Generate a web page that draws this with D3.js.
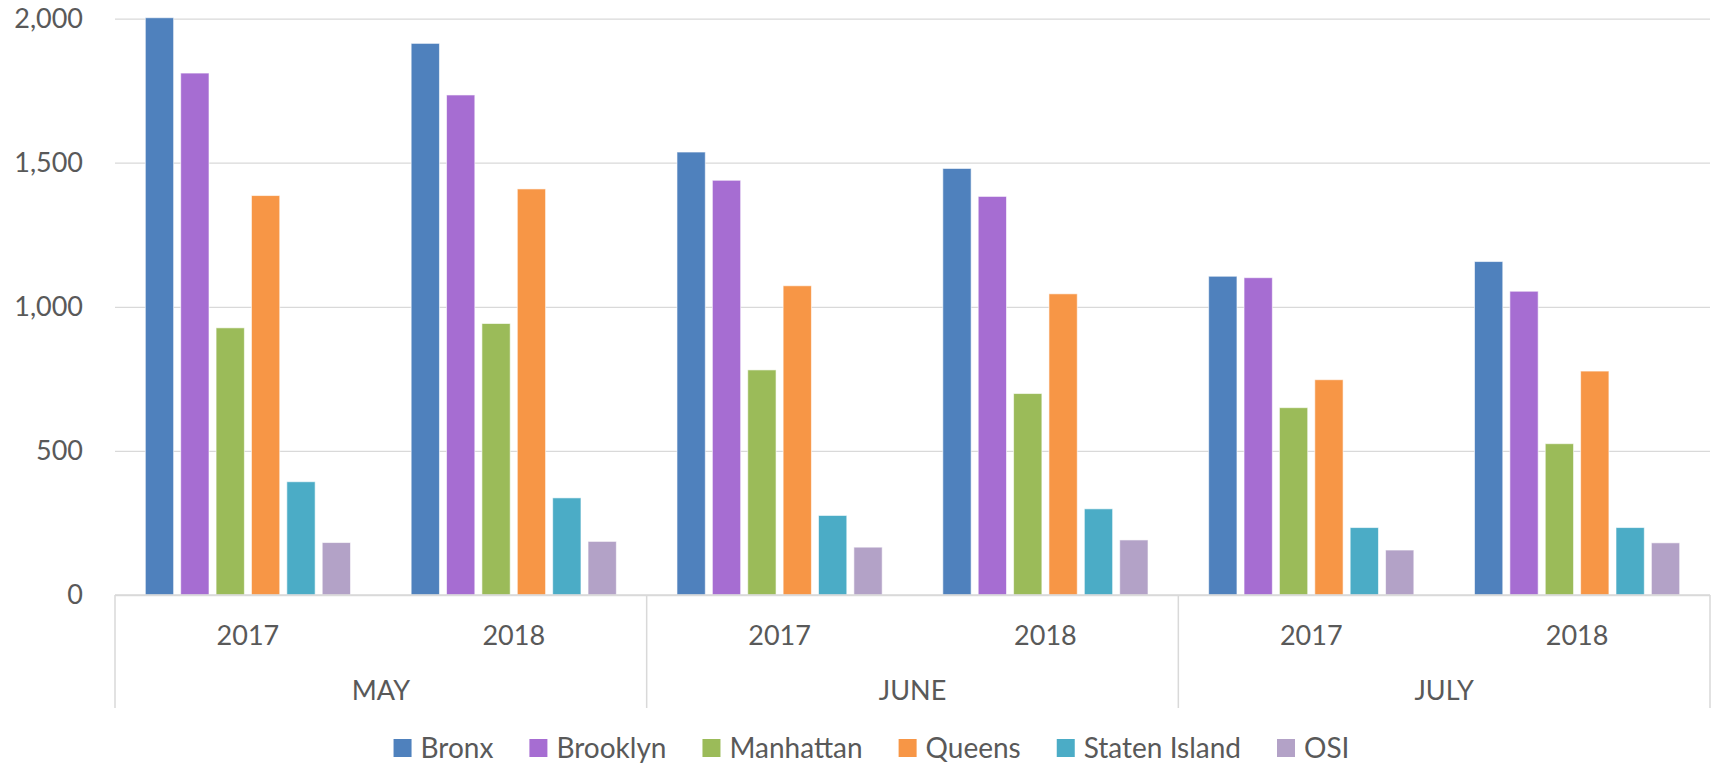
<!DOCTYPE html>
<html>
<head>
<meta charset="utf-8">
<script src="https://cdn.jsdelivr.net/npm/d3@7"></script>
<style>
  body { margin: 0; background: #fff; }
  svg text { font-family: Lato, "Open Sans", sans-serif; fill: #595959; }
</style>
</head>
<body>
<div id="chart"></div>
<script>
const months = ["MAY", "JUNE", "JULY"];
const years = ["2017", "2018"];
const boroughs = ["Bronx", "Brooklyn", "Manhattan", "Queens", "Staten Island", "OSI"];
const colors = ["#4f81bd", "#a66dd2", "#9bbb59", "#f79646", "#4bacc6", "#b3a2c7"];
const yTicks = [0, 500, 1000, 1500, 2000];

// one value per month/year group: May17, May18, Jun17, Jun18, Jul17, Jul18
const bronx = [2003, 1914, 1537, 1480, 1106, 1157];
const brooklyn = [1811, 1735, 1439, 1383, 1101, 1054];
const manhattan = [927, 942, 781, 699, 650, 525];
const queens = [1386, 1409, 1073, 1045, 747, 777];
const statenIsland = [393, 337, 276, 299, 234, 234];
const osi = [182, 186, 166, 191, 156, 181];

const series = [bronx, brooklyn, manhattan, queens, statenIsland, osi];

const W = 1718, H = 765;
const plot = {left: 115, right: 1710, top: 18.6, bottom: 595};
const axisBottomEnd = 708;
const fontSize = "27px";

const groups = [];
months.forEach(m => years.forEach(yr => groups.push({month: m, year: yr, key: m + "-" + yr})));

const svg = d3.select("#chart").append("svg")
    .attr("width", W)
    .attr("height", H);

const x0 = d3.scaleBand()
    .domain(groups.map(g => g.key))
    .range([plot.left, plot.right])
    .padding(0);

const x1 = d3.scaleBand()
    .domain(boroughs)
    .range([0, x0.bandwidth()])
    .paddingInner(0.2)
    .paddingOuter(0.857);

const xm = d3.scaleBand()
    .domain(months)
    .range([plot.left, plot.right]);

const y = d3.scaleLinear()
    .domain([0, 2000])
    .range([plot.bottom, plot.top]);

// gridlines
svg.append("g")
    .attr("transform", `translate(${plot.left},0)`)
    .call(d3.axisLeft(y).tickValues(yTicks).tickSize(-(plot.right - plot.left)).tickFormat(""))
    .call(g => g.select(".domain").remove())
    .selectAll("line")
    .attr("stroke", "#d9d9d9")
    .attr("stroke-width", 1.3);

// y labels
svg.append("g")
    .attr("transform", `translate(${plot.left},0)`)
    .call(d3.axisLeft(y).tickValues(yTicks).tickSize(0).tickPadding(32).tickFormat(d3.format(",")))
    .call(g => g.select(".domain").remove())
    .selectAll("text")
    .style("font-size", fontSize)
    .attr("fill", "#595959");

// bars
const groupG = svg.append("g").selectAll("g")
    .data(groups)
    .join("g")
    .attr("transform", d => `translate(${x0(d.key)},0)`);

groupG.selectAll("rect")
    .data((d, gi) => boroughs.map((b, si) => ({b, v: series[si][gi], c: colors[si]})))
    .join("rect")
    .attr("x", d => x1(d.b))
    .attr("width", x1.bandwidth())
    .attr("y", d => y(d.v))
    .attr("height", d => y(0) - y(d.v))
    .attr("fill", d => d.c)
    .attr("stroke", "#ffffff")
    .attr("stroke-opacity", 0.6)
    .attr("stroke-width", 1);

// category axis
const catAxis = svg.append("g");
catAxis.append("line")
    .attr("x1", plot.left).attr("x2", plot.right)
    .attr("y1", y(0)).attr("y2", y(0))
    .attr("stroke", "#d9d9d9").attr("stroke-width", 1.5);

const monthEdges = months.map(m => xm(m)).concat([plot.right]);
catAxis.selectAll(".sep")
    .data(monthEdges)
    .join("line")
    .attr("class", "sep")
    .attr("x1", d => d).attr("x2", d => d)
    .attr("y1", y(0)).attr("y2", axisBottomEnd)
    .attr("stroke", "#d9d9d9").attr("stroke-width", 1.5);

catAxis.selectAll(".yr")
    .data(groups)
    .join("text")
    .attr("class", "yr")
    .attr("x", d => x0(d.key) + x0.bandwidth() / 2)
    .attr("y", 634)
    .attr("text-anchor", "middle")
    .attr("dominant-baseline", "central")
    .style("font-size", fontSize)
    .text(d => d.year);

catAxis.selectAll(".mo")
    .data(months)
    .join("text")
    .attr("class", "mo")
    .attr("x", d => xm(d) + xm.bandwidth() / 2)
    .attr("y", 689)
    .attr("text-anchor", "middle")
    .attr("dominant-baseline", "central")
    .style("font-size", fontSize)
    .text(d => d);

// legend
const legend = svg.append("g");
const items = legend.selectAll("g")
    .data(boroughs)
    .join("g");
items.append("rect")
    .attr("width", 18).attr("height", 18)
    .attr("y", 739)
    .attr("fill", (d, i) => colors[i]);
items.append("text")
    .attr("x", 27)
    .attr("y", 747)
    .attr("dominant-baseline", "central")
    .style("font-size", "28px")
    .text(d => d);

let widths = [];
items.each(function () {
    widths.push(27 + d3.select(this).select("text").node().getComputedTextLength());
});
const gap = 36;
const total = d3.sum(widths) + gap * (widths.length - 1);
let cx = 871.5 - total / 2;
items.attr("transform", (d, i) => {
    const t = `translate(${cx},0)`;
    cx += widths[i] + gap;
    return t;
});
</script>
</body>
</html>
